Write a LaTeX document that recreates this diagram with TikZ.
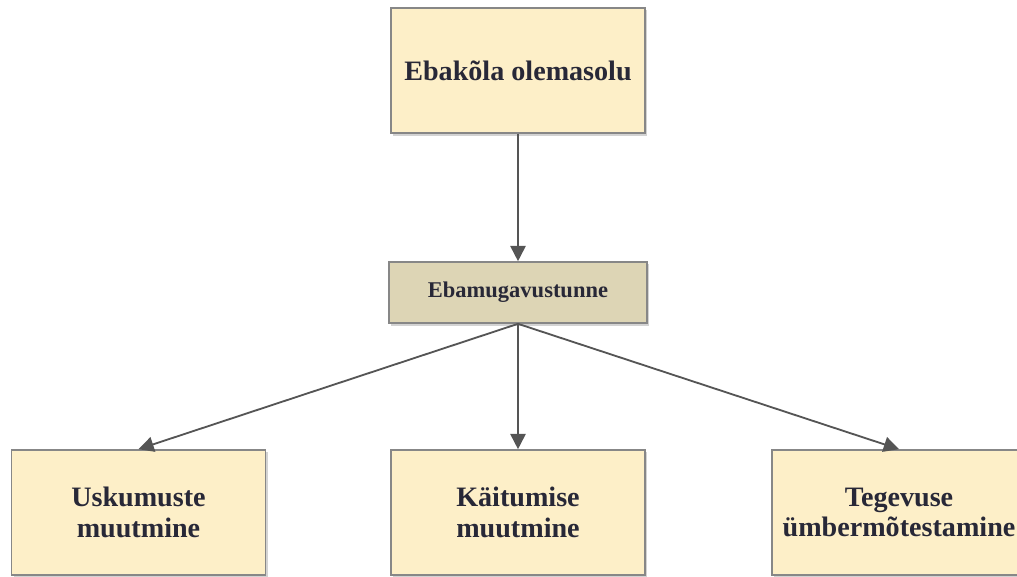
\documentclass[tikz,border=0pt]{standalone}
\usepackage{fontspec}
\setmainfont{Liberation Serif}
\usetikzlibrary{arrows.meta,shadows}
\definecolor{boxfill}{RGB}{253,239,200}
\definecolor{midfill}{RGB}{221,213,181}
\definecolor{boxline}{RGB}{135,135,135}
\definecolor{arrowgray}{RGB}{85,85,85}
\definecolor{textdark}{RGB}{40,40,55}
\tikzset{
  box/.style={draw=boxline, line width=1pt, fill=boxfill, text=textdark,
    drop shadow={shadow xshift=0.06cm, shadow yshift=-0.06cm, opacity=0.35},
    font=\bfseries\fontsize{20}{21.5}\selectfont, align=center, inner sep=0pt,
    minimum width=6.35cm, minimum height=3.13cm},
  midbox/.style={box, fill=midfill, font=\bfseries\fontsize{16}{18}\selectfont,
    minimum width=6.45cm, minimum height=1.53cm},
  link/.style={draw=arrowgray, line width=1.3pt,
    -{Triangle[length=0.38cm, width=0.38cm]}}
}
\begin{document}
\begin{tikzpicture}[x=0.025cm, y=-0.025cm]
\useasboundingbox (0,0) rectangle (1017,577);
\path (518,70.5) node[box] (top) {Ebakõla olemasolu};
\path (518,292.5) node[midbox] (mid) {Ebamugavustunne};
\path (138.5,512.5) node[box] (left) {Uskumuste\\muutmine};
\path (518,512.5) node[box] (centre) {Käitumise\\muutmine};
\path (899,512.5) node[box] (right) {Tegevuse\\ümbermõtestamine};
\draw[link] (top) -- (mid);
\draw[link] (mid.south) -- (left.north);
\draw[link] (mid.south) -- (centre.north);
\draw[link] (mid.south) -- (right.north);
\end{tikzpicture}
\end{document}
